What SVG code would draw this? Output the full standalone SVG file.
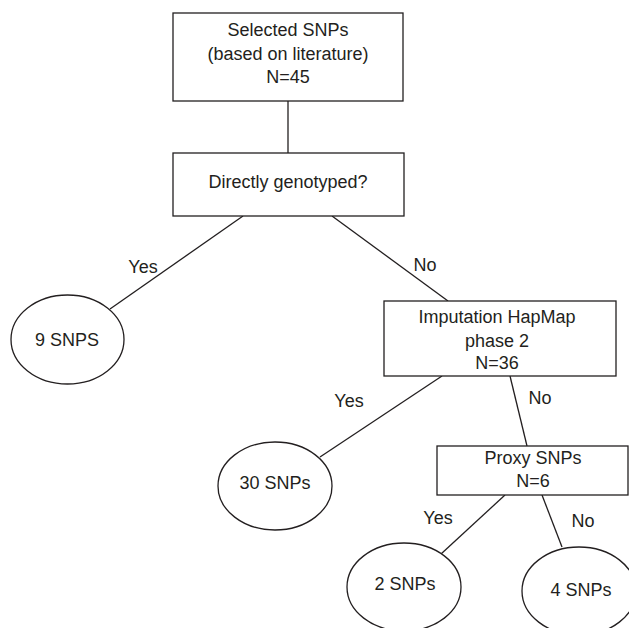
<svg xmlns="http://www.w3.org/2000/svg" width="629" height="628" viewBox="0 0 629 628">
<style>
.box{fill:#fff;stroke:#231f20;stroke-width:1.3}
.ln{stroke:#231f20;stroke-width:1.3;fill:none}
text{font-family:"Liberation Sans",Arial,sans-serif;font-size:18px;fill:#231f20;text-anchor:middle}
</style>
<rect width="629" height="628" fill="#fff"/>
<g id="connectors">
<line class="ln" x1="288" y1="101" x2="288" y2="153"/>
<line class="ln" x1="243" y1="216" x2="110" y2="309"/>
<line class="ln" x1="332" y1="216" x2="448" y2="301"/>
<line class="ln" x1="442" y1="376" x2="320" y2="457"/>
<line class="ln" x1="510" y1="376" x2="527" y2="446"/>
<line class="ln" x1="505" y1="495" x2="441" y2="554"/>
<line class="ln" x1="542" y1="495" x2="562" y2="547"/>
<text x="143" y="273">Yes</text>
<text x="425" y="271">No</text>
<text x="349" y="407">Yes</text>
<text x="540" y="404">No</text>
<text x="438" y="524">Yes</text>
<text x="583" y="527">No</text>
</g>
<g id="selected">
<rect class="box" x="173" y="13" width="230" height="88"/>
<text x="288" y="36">Selected SNPs</text>
<text x="288" y="60">(based on literature)</text>
<text x="288" y="83">N=45</text>
</g>
<g id="directly">
<rect class="box" x="173" y="153" width="231" height="63"/>
<text x="288" y="188">Directly genotyped?</text>
</g>
<g id="nine">
<ellipse class="box" cx="67.5" cy="339.5" rx="56.5" ry="44.5"/>
<text x="67" y="346">9 SNPS</text>
</g>
<g id="imputation">
<rect class="box" x="384" y="301" width="232" height="75"/>
<text x="497" y="323">Imputation HapMap</text>
<text x="497" y="347">phase 2</text>
<text x="497" y="369">N=36</text>
</g>
<g id="thirty">
<ellipse class="box" cx="275" cy="486" rx="57" ry="44"/>
<text x="275" y="489">30 SNPs</text>
</g>
<g id="proxy">
<rect class="box" x="437" y="446" width="191" height="49"/>
<text x="533" y="464">Proxy SNPs</text>
<text x="533" y="487">N=6</text>
</g>
<g id="two">
<ellipse class="box" cx="404" cy="587" rx="57" ry="44"/>
<text x="405" y="590">2 SNPs</text>
</g>
<g id="four">
<ellipse class="box" cx="579" cy="591" rx="57" ry="44"/>
<text x="581" y="596">4 SNPs</text>
</g>
</svg>
